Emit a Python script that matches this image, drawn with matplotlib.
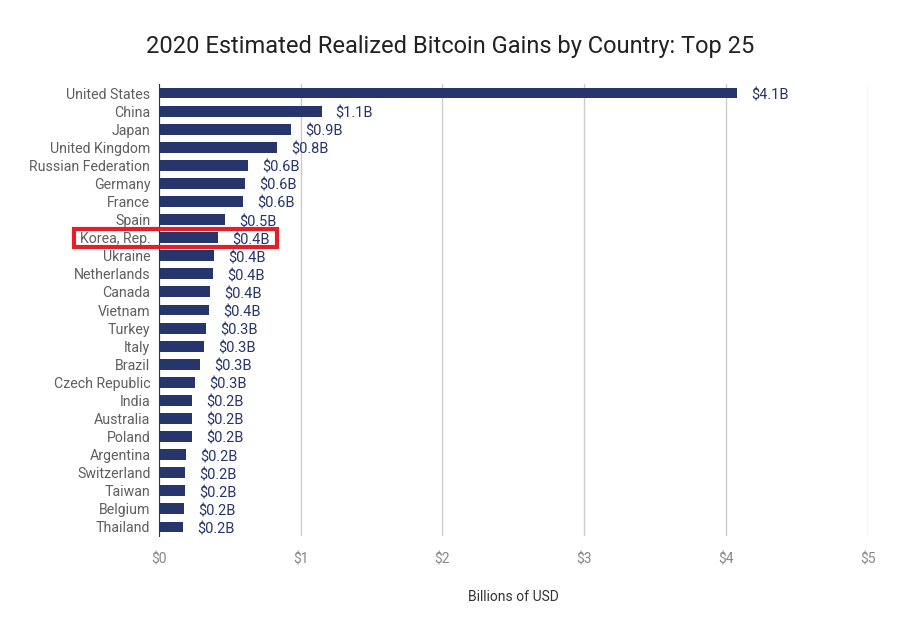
import matplotlib
matplotlib.use("Agg")
from matplotlib import pyplot as plt
from matplotlib import patches, transforms

countries = ["United States", "China", "Japan", "United Kingdom", "Russian Federation",
             "Germany", "France", "Spain", "Korea, Rep.", "Ukraine", "Netherlands",
             "Canada", "Vietnam", "Turkey", "Italy", "Brazil", "Czech Republic", "India",
             "Australia", "Poland", "Argentina", "Switzerland", "Taiwan", "Belgium", "Thailand"]
gains = [4.075, 1.148, 0.930, 0.831, 0.631, 0.608, 0.592, 0.465, 0.418, 0.392, 0.383,
         0.359, 0.352, 0.333, 0.319, 0.293, 0.255, 0.235, 0.235, 0.235, 0.195, 0.185,
         0.185, 0.178, 0.169]
xticks = [0, 1, 2, 3, 4, 5]
highlight = "Korea, Rep."

plt.rcParams['font.family'] = ['Roboto', 'DejaVu Sans']

fig = plt.figure(figsize=(9, 6.35), dpi=100)
ax = fig.add_axes([158.7 / 900, 1 - 536 / 635, (868 - 158.7) / 900, 452 / 635])

navy = "#26356b"
pos = list(range(len(countries)))
ax.barh(pos, gains, height=0.6, color=navy, zorder=3)
for p, v in zip(pos, gains):
    ax.text(v + 0.1, p + 0.05, "$%.1fB" % v, va="center_baseline", ha="left",
            fontsize=10.5, color=navy)

ax.set_ylim(len(countries) - 0.5, -0.5)
ax.set_yticks(pos)
ax.set_yticklabels(countries, fontsize=10.2, color="#5f5f5f")
ax.set_xlim(0, 5)
ax.set_xticks(xticks)
ax.set_xticklabels(["$%d" % t for t in xticks], fontsize=10, color="#888888")
ax.tick_params(length=0)
ax.tick_params(axis="x", pad=12)
ax.tick_params(axis="y", pad=6)
ax.grid(axis="x", color="#cccccc", linewidth=1, zorder=0)
for s in ["top", "right", "bottom"]:
    ax.spines[s].set_visible(False)
ax.spines["left"].set_color("#333333")
ax.spines["left"].set_zorder(4)

ax.set_xlabel("Billions of USD", fontsize=10, color="#333333", labelpad=17)
fig.suptitle("2020 Estimated Realized Bitcoin Gains by Country: Top 25",
             fontsize=17, color="#222222", y=1 - 46 / 635, va="center")

# red box around the highlighted country
k = countries.index(highlight)
trans = transforms.blended_transform_factory(ax.transAxes, ax.transData)
box = patches.Rectangle((-0.119, k - 0.5), 0.286, 1.0, transform=trans, fill=False,
                        edgecolor="#e3202a", linewidth=3, clip_on=False, zorder=5)
ax.add_patch(box)

fig.savefig("out.png", dpi=100, facecolor="white")
